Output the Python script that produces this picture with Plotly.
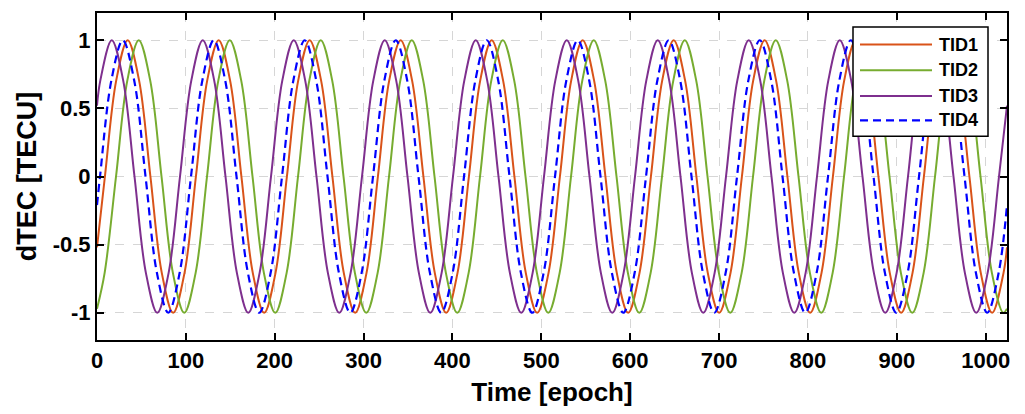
import plotly.graph_objects as go

# ---------------- data (key points of each wave) ----------------
x_tid1 = [0, 8.9, 21.7, 34.5, 47.3, 60.1, 72.9, 85.7, 98.5, 111.3, 124.1, 136.9, 149.7, 162.5, 175.3,
          188.1, 200.9, 213.7, 226.5, 239.3, 252.1, 264.9, 277.7, 290.5, 303.3, 316.1, 328.9, 341.7,
          354.5, 367.3, 380.1, 392.9, 405.7, 418.5, 431.3, 444.1, 456.9, 469.7, 482.5, 495.3, 508.1,
          520.9, 533.7, 546.5, 559.3, 572.1, 584.9, 597.7, 610.5, 623.3, 636.1, 648.9, 661.7, 674.5,
          687.3, 700.1, 712.9, 725.7, 738.5, 751.3, 764.1, 776.9, 789.7, 802.5, 815.3, 828.1, 840.9,
          853.7, 866.5, 879.3, 892.1, 904.9, 917.7, 930.5, 943.3, 956.1, 968.9, 981.7, 994.5, 1007.3,
          1020.1, 1024]
y_tid1 = [-0.52,
          0, 0.707, 1, 0.707, 0, -0.707, -1, -0.707,
          0, 0.707, 1, 0.707, 0, -0.707, -1, -0.707,
          0, 0.707, 1, 0.707, 0, -0.707, -1, -0.707,
          0, 0.707, 1, 0.707, 0, -0.707, -1, -0.707,
          0, 0.707, 1, 0.707, 0, -0.707, -1, -0.707,
          0, 0.707, 1, 0.707, 0, -0.707, -1, -0.707,
          0, 0.707, 1, 0.707, 0, -0.707, -1, -0.707,
          0, 0.707, 1, 0.707, 0, -0.707, -1, -0.707,
          0, 0.707, 1, 0.707, 0, -0.707, -1, -0.707,
          0, 0.707, 1, 0.707, 0, -0.707, -1, -0.707,
          -0.52]

x_tid2 = [0, 8.6, 21.4, 34.2, 47.0, 59.8, 72.6, 85.4, 98.2, 111.0, 123.8, 136.6, 149.4, 162.2, 175.0,
          187.8, 200.6, 213.4, 226.2, 239.0, 251.8, 264.6, 277.4, 290.2, 303.0, 315.8, 328.6, 341.4,
          354.2, 367.0, 379.8, 392.6, 405.4, 418.2, 431.0, 443.8, 456.6, 469.4, 482.2, 495.0, 507.8,
          520.6, 533.4, 546.2, 559.0, 571.8, 584.6, 597.4, 610.2, 623.0, 635.8, 648.6, 661.4, 674.2,
          687.0, 699.8, 712.6, 725.4, 738.2, 751.0, 763.8, 776.6, 789.4, 802.2, 815.0, 827.8, 840.6,
          853.4, 866.2, 879.0, 891.8, 904.6, 917.4, 930.2, 943.0, 955.8, 968.6, 981.4, 994.2, 1007.0,
          1019.8, 1024]
y_tid2 = [-0.97,
          -0.707, 0, 0.707, 1, 0.707, 0, -0.707, -1,
          -0.707, 0, 0.707, 1, 0.707, 0, -0.707, -1,
          -0.707, 0, 0.707, 1, 0.707, 0, -0.707, -1,
          -0.707, 0, 0.707, 1, 0.707, 0, -0.707, -1,
          -0.707, 0, 0.707, 1, 0.707, 0, -0.707, -1,
          -0.707, 0, 0.707, 1, 0.707, 0, -0.707, -1,
          -0.707, 0, 0.707, 1, 0.707, 0, -0.707, -1,
          -0.707, 0, 0.707, 1, 0.707, 0, -0.707, -1,
          -0.707, 0, 0.707, 1, 0.707, 0, -0.707, -1,
          -0.707, 0, 0.707, 1, 0.707, 0, -0.707, -1,
          -0.97]

x_tid3 = [0, 3.8, 16.6, 29.4, 42.2, 55.0, 67.8, 80.6, 93.4, 106.2, 119.0, 131.8, 144.6, 157.4, 170.2,
          183.0, 195.8, 208.6, 221.4, 234.2, 247.0, 259.8, 272.6, 285.4, 298.2, 311.0, 323.8, 336.6,
          349.4, 362.2, 375.0, 387.8, 400.6, 413.4, 426.2, 439.0, 451.8, 464.6, 477.4, 490.2, 503.0,
          515.8, 528.6, 541.4, 554.2, 567.0, 579.8, 592.6, 605.4, 618.2, 631.0, 643.8, 656.6, 669.4,
          682.2, 695.0, 707.8, 720.6, 733.4, 746.2, 759.0, 771.8, 784.6, 797.4, 810.2, 823.0, 835.8,
          848.6, 861.4, 874.2, 887.0, 899.8, 912.6, 925.4, 938.2, 951.0, 963.8, 976.6, 989.4, 1002.2,
          1015.0, 1024]
y_tid3 = [0.52,
          0.707, 1, 0.707, 0, -0.707, -1, -0.707, 0,
          0.707, 1, 0.707, 0, -0.707, -1, -0.707, 0,
          0.707, 1, 0.707, 0, -0.707, -1, -0.707, 0,
          0.707, 1, 0.707, 0, -0.707, -1, -0.707, 0,
          0.707, 1, 0.707, 0, -0.707, -1, -0.707, 0,
          0.707, 1, 0.707, 0, -0.707, -1, -0.707, 0,
          0.707, 1, 0.707, 0, -0.707, -1, -0.707, 0,
          0.707, 1, 0.707, 0, -0.707, -1, -0.707, 0,
          0.707, 1, 0.707, 0, -0.707, -1, -0.707, 0,
          0.707, 1, 0.707, 0, -0.707, -1, -0.707, 0,
          0.52]

x_tid4 = [0, 3.4, 16.2, 29.0, 41.8, 54.6, 67.4, 80.2, 93.0, 105.8, 118.6, 131.4, 144.2, 157.0, 169.8,
          182.6, 195.4, 208.2, 221.0, 233.8, 246.6, 259.4, 272.2, 285.0, 297.8, 310.6, 323.4, 336.2,
          349.0, 361.8, 374.6, 387.4, 400.2, 413.0, 425.8, 438.6, 451.4, 464.2, 477.0, 489.8, 502.6,
          515.4, 528.2, 541.0, 553.8, 566.6, 579.4, 592.2, 605.0, 617.8, 630.6, 643.4, 656.2, 669.0,
          681.8, 694.6, 707.4, 720.2, 733.0, 745.8, 758.6, 771.4, 784.2, 797.0, 809.8, 822.6, 835.4,
          848.2, 861.0, 873.8, 886.6, 899.4, 912.2, 925.0, 937.8, 950.6, 963.4, 976.2, 989.0, 1001.8,
          1014.6, 1024]
y_tid4 = [-0.21,
          0, 0.707, 1, 0.707, 0, -0.707, -1, -0.707,
          0, 0.707, 1, 0.707, 0, -0.707, -1, -0.707,
          0, 0.707, 1, 0.707, 0, -0.707, -1, -0.707,
          0, 0.707, 1, 0.707, 0, -0.707, -1, -0.707,
          0, 0.707, 1, 0.707, 0, -0.707, -1, -0.707,
          0, 0.707, 1, 0.707, 0, -0.707, -1, -0.707,
          0, 0.707, 1, 0.707, 0, -0.707, -1, -0.707,
          0, 0.707, 1, 0.707, 0, -0.707, -1, -0.707,
          0, 0.707, 1, 0.707, 0, -0.707, -1, -0.707,
          0, 0.707, 1, 0.707, 0, -0.707, -1, -0.707,
          -0.21]

series_names = ["TID1", "TID2", "TID3", "TID4"]
x_tick_vals = [0, 100, 200, 300, 400, 500, 600, 700, 800, 900, 1000]
x_tick_text = ["0", "100", "200", "300", "400", "500", "600", "700", "800", "900", "1000"]
y_tick_vals = [-1, -0.5, 0, 0.5, 1]
y_tick_text = ["-1", "-0.5", "0", "0.5", "1"]

# ---------------- styles ----------------
colors = ["#D95319", "#77AC30", "#7E2F8E", "#0000FF"]
dashes = ["solid", "solid", "solid", "8px,5px"]
widths = [2, 2, 2, 2.2]

W, H = 1025, 414
ML, MR, MT, MB = 97, 18, 11, 74
FONT = "Arial, Liberation Sans, Helvetica, sans-serif"

fig = go.Figure()
xs = [x_tid1, x_tid2, x_tid3, x_tid4]
ys = [y_tid1, y_tid2, y_tid3, y_tid4]
for i in range(4):
    fig.add_trace(go.Scatter(
        x=xs[i], y=ys[i], name=series_names[i], mode="lines",
        line=dict(color=colors[i], width=widths[i], dash=dashes[i], shape="spline", smoothing=1.0),
        showlegend=False,
    ))

axis_common = dict(
    showline=True, linecolor="black", linewidth=2, mirror="ticks",
    ticks="inside", ticklen=7, tickwidth=1.5, tickcolor="black",
    showgrid=True, gridcolor="#d6d6d6", gridwidth=1.3, griddash="dash",
    zeroline=False,
    tickfont=dict(family=FONT, size=22, color="black", weight="bold"),
)
fig.update_xaxes(range=[0, 1024], tickvals=x_tick_vals, ticktext=x_tick_text,
                 title=dict(text="Time [epoch]", standoff=10,
                            font=dict(family=FONT, size=26, color="black", weight="bold")),
                 **axis_common)
fig.update_yaxes(range=[-1.2, 1.2], tickvals=y_tick_vals, ticktext=y_tick_text,
                 title=dict(text="dTEC [TECU]", standoff=8,
                            font=dict(family=FONT, size=27, color="black", weight="bold")),
                 **axis_common)

# ---------------- custom legend (MATLAB style, long line samples) ----------------
pw, ph = W - ML - MR, H - MT - MB
def px(xp):
    return (xp - ML) / pw
def py(yp):
    return 1 - (yp - MT) / ph

fig.add_shape(type="rect", xref="paper", yref="paper",
              x0=px(853), x1=px(988), y0=py(135), y1=py(25),
              line=dict(color="black", width=1.5), fillcolor="white", layer="above")
entry_y = [42.7, 68.5, 94.5, 119]
for i in range(4):
    fig.add_shape(type="line", xref="paper", yref="paper",
                  x0=px(860), x1=px(932), y0=py(entry_y[i]), y1=py(entry_y[i]),
                  line=dict(color=colors[i], width=widths[i], dash=dashes[i]), layer="above")
    fig.add_annotation(xref="paper", yref="paper", x=px(937), y=py(entry_y[i]),
                       text=series_names[i], showarrow=False, xanchor="left", yanchor="middle",
                       font=dict(family=FONT, size=18, color="black", weight="bold"))

fig.update_layout(
    width=W, height=H,
    margin=dict(l=ML, r=MR, t=MT, b=MB),
    paper_bgcolor="white", plot_bgcolor="white",
    showlegend=False,
)

fig.write_html("out.html")
